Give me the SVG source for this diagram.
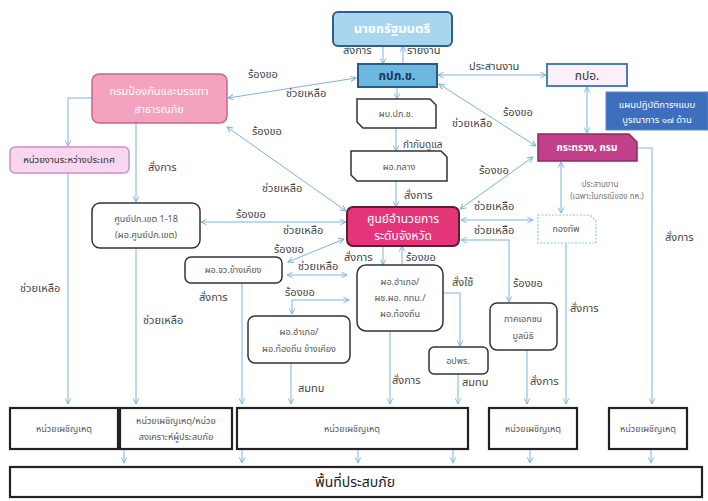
<svg xmlns="http://www.w3.org/2000/svg" width="708" height="501" viewBox="0 0 708 501">
  <style>
    text { font-family: "Noto Sans Thai", "Noto Sans", "DejaVu Sans", sans-serif; }
    .lbl { font-size: 11px; fill: #444; }
    .small { font-size: 8px; fill: #777; }
    .nt { font-size: 9px; fill: #555; text-anchor: middle; }
    .wt { fill: #fff; text-anchor: middle; }
    .plain { fill: #fff; stroke: #333; stroke-width: 1.5; }
    .unit { fill: #fff; stroke: #222; stroke-width: 2.2; }
    .conn path { fill: none; stroke: #7db3de; stroke-width: 1; }
    .both { marker-start: url(#ah); marker-end: url(#ah); }
    .one { marker-end: url(#ah); }
  </style>
  <defs>
    <marker id="ah" viewBox="0 0 10 10" refX="9" refY="5" markerWidth="7" markerHeight="7" markerUnits="userSpaceOnUse" orient="auto-start-reverse">
      <path d="M1,1 L9,5 L1,9" fill="none" stroke="#7db3de" stroke-width="1.4"/>
    </marker>
  </defs>
  <rect width="708" height="501" fill="#fff"/>

  <!-- connectors -->
  <g id="connectors" class="conn">
    <path class="one" d="M383,46 V64"/>
    <path class="one" d="M403,64 V46"/>
    <path class="both" d="M438,75 H546"/>
    <path class="both" d="M228,98 L356,78"/>
    <path class="one" d="M397,87 V99"/>
    <path class="one" d="M396,128 V151"/>
    <path class="one" d="M396,181 V207"/>
    <path class="both" d="M227,127 L346,211"/>
    <path class="both" d="M439,84 L536,146"/>
    <path class="both" d="M587,87 V133"/>
    <path class="both" d="M533,157 L460,209"/>
    <path class="both" d="M461,220 H533"/>
    <path class="both" d="M561,162 V213"/>
    <path class="both" d="M461,240 H509 V302"/>
    <path class="one" d="M637,148 H652 V404"/>
    <path class="one" d="M566,243 V404"/>
    <path class="one" d="M527,350 V404"/>
    <path class="one" d="M92,98 H68 V146"/>
    <path class="one" d="M68,173 V404"/>
    <path class="one" d="M136,123 V202"/>
    <path class="one" d="M136,248 V404"/>
    <path class="both" d="M201,222 H346"/>
    <path class="both" d="M288,262 L344,239"/>
    <path class="both" d="M287,275 H347"/>
    <path class="one" d="M242,283 V404"/>
    <path class="both" d="M292,314 V300 H349"/>
    <path class="one" d="M291,363 V404"/>
    <path class="one" d="M383,246 V265"/>
    <path class="one" d="M402,265 V246"/>
    <path class="one" d="M390,331 V404"/>
    <path class="one" d="M443,293 H460 V346"/>
    <path class="one" d="M458,374 V404"/>
    <path class="one" d="M124,449 V463"/>
    <path class="one" d="M242,449 V463"/>
    <path class="one" d="M358,449 V463"/>
    <path class="one" d="M453,449 V463"/>
    <path class="one" d="M530,449 V463"/>
    <path class="one" d="M651,449 V463"/>
  </g>

  <!-- connector labels -->
  <g id="labels" class="lbl">
    <text x="343" y="54">สั่งการ</text>
    <text x="407" y="54">รายงาน</text>
    <text x="469" y="70">ประสานงาน</text>
    <text x="248" y="78">ร้องขอ</text>
    <text x="286" y="97">ช่วยเหลือ</text>
    <text x="503" y="116">ร้องขอ</text>
    <text x="452" y="127">ช่วยเหลือ</text>
    <text x="252" y="135">ร้องขอ</text>
    <text x="148" y="171">สั่งการ</text>
    <text x="403" y="148" style="font-size:10px">กำกับดูแล</text>
    <text x="479" y="174">ร้องขอ</text>
    <text x="262" y="192">ช่วยเหลือ</text>
    <text x="404" y="199">สั่งการ</text>
    <text x="474" y="210">ช่วยเหลือ</text>
    <text x="236" y="218">ร้องขอ</text>
    <text x="283" y="234">ช่วยเหลือ</text>
    <text x="474" y="234">ช่วยเหลือ</text>
    <text x="274" y="253">ร้องขอ</text>
    <text x="344" y="261">สั่งการ</text>
    <text x="406" y="261">ร้องขอ</text>
    <text x="298" y="270">ช่วยเหลือ</text>
    <text x="452" y="286">สั่งใช้</text>
    <text x="513" y="287">ร้องขอ</text>
    <text x="20" y="292">ช่วยเหลือ</text>
    <text x="285" y="296">ร้องขอ</text>
    <text x="199" y="301">สั่งการ</text>
    <text x="570" y="312">สั่งการ</text>
    <text x="143" y="324">ช่วยเหลือ</text>
    <text x="665" y="241">สั่งการ</text>
    <text x="392" y="384">สั่งการ</text>
    <text x="462" y="386">สมทบ</text>
    <text x="530" y="385">สั่งการ</text>
    <text x="298" y="392">สมทบ</text>
    <text class="small" x="600" y="187" text-anchor="middle">ประสานงาน</text>
    <text class="small" x="607" y="199" text-anchor="middle">(เฉพาะในกรณีของ กห.)</text>
  </g>

  <!-- nodes -->
  <g id="pm">
    <rect x="333" y="12" width="119" height="34" rx="5" fill="#a8d6ee" stroke="#2f5f8a" stroke-width="2"/>
    <text class="wt" x="392" y="33" style="font-size:13px;font-weight:bold">นายกรัฐมนตรี</text>
  </g>
  <g id="kpp-ch">
    <rect x="358" y="64" width="79" height="23" fill="#6cb8e0" stroke="#2b5a85" stroke-width="2"/>
    <text x="397" y="80" text-anchor="middle" style="font-size:12px;font-weight:bold;fill:#1d3557">กปภ.ช.</text>
  </g>
  <g id="kpo">
    <rect x="547" y="64" width="80" height="22" fill="#fbf0fa" stroke="#4a7fb5" stroke-width="2"/>
    <text x="587" y="80" text-anchor="middle" style="font-size:12px;fill:#333">กปอ.</text>
  </g>
  <g id="plan">
    <rect x="606" y="92" width="102" height="38" fill="#3d6fbd" stroke="#5a8ad0" stroke-width="1"/>
    <text class="wt" x="657" y="108" style="font-size:9.5px">แผนปฏิบัติการฯแบบ</text>
    <text class="wt" x="657" y="123" style="font-size:9.5px">บูรณาการ ๑๗ ด้าน</text>
  </g>
  <g id="ministry">
    <path d="M538,134 H629 L637,142 V161 H538 Z" fill="#c2408a" stroke="#8a2a60" stroke-width="1.5"/>
    <text class="wt" x="587" y="151" style="font-size:10px;font-weight:bold">กระทรวง, กรม</text>
  </g>
  <g id="ddpm">
    <rect x="92" y="74" width="135" height="49" rx="7" fill="#f3a3bd" stroke="#c06a90" stroke-width="1.5"/>
    <text class="wt" x="159" y="95" style="font-size:11px">กรมป้องกันและบรรเทา</text>
    <text class="wt" x="159" y="113" style="font-size:11px">สาธารณภัย</text>
  </g>
  <g id="intl">
    <rect x="10" y="147" width="119" height="26" rx="5" fill="#f7d6f0" stroke="#d48bc8" stroke-width="1.5"/>
    <text x="69" y="163" text-anchor="middle" style="font-size:9.5px;fill:#333">หน่วยงานระหว่างประเทศ</text>
  </g>
  <g id="commander">
    <path d="M357,99 H430 L436,105 V128 H363 L357,122 Z" class="plain"/>
    <text class="nt" x="396" y="117">ผบ.ปภ.ช.</text>
  </g>
  <g id="central-director">
    <path d="M351,151 H441 L447,157 V181 H357 L351,175 Z" class="plain"/>
    <text class="nt" x="399" y="170">ผอ.กลาง</text>
  </g>
  <g id="province-center">
    <rect x="347" y="207" width="112" height="39" rx="6" fill="#e33577" stroke="#5a2030" stroke-width="2"/>
    <text class="wt" x="403" y="223" style="font-size:12px">ศูนย์อำนวยการ</text>
    <text class="wt" x="403" y="240" style="font-size:12px">ระดับจังหวัด</text>
  </g>
  <g id="region-center">
    <rect x="92" y="203" width="108" height="45" rx="8" class="plain"/>
    <text class="nt" x="146" y="222">ศูนย์ปภ.เขต 1-18</text>
    <text class="nt" x="146" y="238">(ผอ.ศูนย์ปภ.เขต)</text>
  </g>
  <g id="nearby-province">
    <rect x="185" y="257" width="97" height="26" rx="6" class="plain"/>
    <text class="nt" x="233" y="273">ผอ.จว.ข้างเคียง</text>
  </g>
  <g id="nearby-district">
    <rect x="248" y="316" width="102" height="47" rx="7" class="plain"/>
    <text class="nt" x="299" y="335">ผอ.อำเภอ/</text>
    <text class="nt" x="299" y="352">ผอ.ท้องถิ่น ข้างเคียง</text>
  </g>
  <g id="district">
    <rect x="357" y="265" width="86" height="66" rx="9" class="plain"/>
    <text class="nt" x="400" y="285">ผอ.อำเภอ/</text>
    <text class="nt" x="400" y="301">ผช.ผอ. กทม./</text>
    <text class="nt" x="400" y="317">ผอ.ท้องถิ่น</text>
  </g>
  <g id="volunteers">
    <rect x="429" y="347" width="59" height="27" rx="5" class="plain"/>
    <text class="nt" x="458" y="364">อปพร.</text>
  </g>
  <g id="private">
    <rect x="490" y="303" width="67" height="47" rx="7" class="plain"/>
    <text class="nt" x="523" y="322">ภาคเอกชน</text>
    <text class="nt" x="523" y="339">มูลนิธิ</text>
  </g>
  <g id="army">
    <path d="M538,215 H590 L596,221 V243 H538 Z" fill="#fff" stroke="#8ec3e0" stroke-width="1.2" stroke-dasharray="2,1.5"/>
    <text class="nt" x="566" y="232">กองทัพ</text>
  </g>
  <g id="unit-1">
    <rect x="10" y="408" width="108" height="41" class="unit"/>
    <text class="nt" x="64" y="432">หน่วยเผชิญเหตุ</text>
  </g>
  <g id="unit-2">
    <rect x="120" y="408" width="112" height="41" class="unit"/>
    <text class="nt" x="176" y="424">หน่วยเผชิญเหตุ/หน่วย</text>
    <text class="nt" x="176" y="440">สงเคราะห์ผู้ประสบภัย</text>
  </g>
  <g id="unit-3">
    <rect x="237" y="408" width="231" height="41" class="unit"/>
    <text class="nt" x="352" y="432">หน่วยเผชิญเหตุ</text>
  </g>
  <g id="unit-4">
    <rect x="489" y="408" width="88" height="41" class="unit"/>
    <text class="nt" x="533" y="432">หน่วยเผชิญเหตุ</text>
  </g>
  <g id="unit-5">
    <rect x="609" y="408" width="78" height="41" class="unit"/>
    <text class="nt" x="648" y="432">หน่วยเผชิญเหตุ</text>
  </g>
  <g id="disaster-area">
    <rect x="10" y="467" width="692" height="30" class="unit"/>
    <text x="355" y="487" text-anchor="middle" style="font-size:14px;fill:#222">พื้นที่ประสบภัย</text>
  </g>
</svg>
